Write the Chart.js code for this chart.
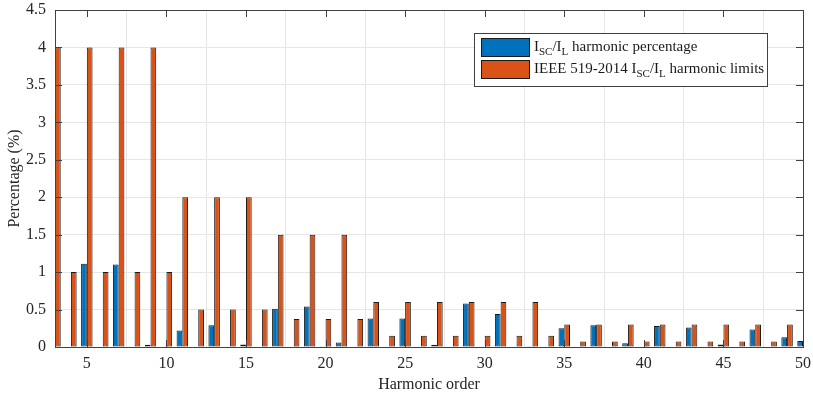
<!DOCTYPE html>
<html>
<head>
<meta charset="utf-8">
<script src="https://cdn.jsdelivr.net/npm/chart.js@4.4.0/dist/chart.umd.min.js"></script>
<style>
  html, body { margin: 0; padding: 0; background: #fff; }
  #wrap { width: 813px; height: 398px; }
</style>
</head>
<body>
<div id="wrap"><canvas id="harmonicChart"></canvas></div>
<script>
// Harmonic orders 3..50
const harmonics = [3, 4, 5, 6, 7, 8, 9, 10, 11, 12, 13, 14, 15, 16, 17, 18, 19, 20, 21, 22, 23, 24, 25, 26,
                   27, 28, 29, 30, 31, 32, 33, 34, 35, 36, 37, 38, 39, 40, 41, 42, 43, 44, 45, 46, 47, 48, 49, 50];

// Measured harmonic current (% of fundamental)
const measuredPct = [0, 0, 1.11, 0, 1.10, 0, 0.03, 0, 0.22, 0, 0.29, 0, 0.035, 0, 0.51, 0, 0.54, 0.01, 0.06, 0,
                     0.38, 0, 0.38, 0, 0.03, 0, 0.58, 0, 0.44, 0, 0.01, 0, 0.25, 0, 0.29, 0, 0.05, 0, 0.28, 0,
                     0.26, 0, 0.035, 0, 0.235, 0, 0.13, 0.08];

// IEEE 519-2014 limits (even harmonics at 25% of the odd limit)
const ieeeLimits = [4, 1, 4, 1, 4, 1, 4, 1, 2, 0.5, 2, 0.5, 2, 0.5, 1.5, 0.375, 1.5, 0.375, 1.5, 0.375,
                    0.6, 0.15, 0.6, 0.15, 0.6, 0.15, 0.6, 0.15, 0.6, 0.15, 0.6, 0.15, 0.3, 0.075, 0.3, 0.075,
                    0.3, 0.075, 0.3, 0.075, 0.3, 0.075, 0.3, 0.075, 0.3, 0.075, 0.3, 0.075];

const xTicks = [5, 10, 15, 20, 25, 30, 35, 40, 45, 50];
const yTicks = [0, 0.5, 1, 1.5, 2, 2.5, 3, 3.5, 4, 4.5];

const BLUE = '#0072BD';
const ORANGE = '#D95319';
const AXIS = '#404040';
const SERIF = '"Liberation Serif", "Times New Roman", serif';

// Axes box and inward tick marks on all four sides
const boxPlugin = {
    id: 'box',
    afterDatasetsDraw(chart) {
        const { ctx, chartArea: a, scales } = chart;
        const len = 7;
        ctx.save();
        ctx.strokeStyle = AXIS;
        ctx.lineWidth = 1;
        ctx.beginPath();
        xTicks.forEach(v => {
            const px = Math.round(scales.x.getPixelForValue(v)) + 0.5;
            ctx.moveTo(px, a.bottom); ctx.lineTo(px, a.bottom - len);
            ctx.moveTo(px, a.top); ctx.lineTo(px, a.top + len);
        });
        yTicks.forEach(v => {
            const py = Math.round(scales.y.getPixelForValue(v)) + 0.5;
            ctx.moveTo(a.left, py); ctx.lineTo(a.left + len, py);
            ctx.moveTo(a.right, py); ctx.lineTo(a.right - len, py);
        });
        ctx.stroke();
        ctx.strokeRect(Math.round(a.left) + 0.5, Math.round(a.top) + 0.5,
                       Math.round(a.right - a.left), Math.round(a.bottom - a.top));
        ctx.restore();
    }
};

// Legend with subscripted labels
const legendPlugin = {
    id: 'subLegend',
    afterDraw(chart) {
        const ctx = chart.ctx;
        const x0 = 474.5, y0 = 33.5, w = 293, h = 53;
        const main = '15px ' + SERIF, sub = '11px ' + SERIF;
        ctx.save();
        ctx.fillStyle = '#fff';
        ctx.fillRect(x0, y0, w, h);
        ctx.strokeStyle = AXIS;
        ctx.lineWidth = 1;
        ctx.strokeRect(x0, y0, w, h);

        const rows = [
            { color: BLUE, parts: [['I', 0], ['SC', 1], ['/I', 0], ['L', 1], [' harmonic percentage', 0]] },
            { color: ORANGE, parts: [['IEEE 519-2014 I', 0], ['SC', 1], ['/I', 0], ['L', 1], [' harmonic limits', 0]] }
        ];
        rows.forEach((row, i) => {
            const ry = 38 + i * 22;
            ctx.fillStyle = row.color;
            ctx.fillRect(481, ry, 48, 18);
            ctx.strokeStyle = '#1a1a1a';
            ctx.strokeRect(481.5, ry + 0.5, 48, 18);
            let tx = 534;
            const base = ry + 13;
            ctx.fillStyle = '#1a1a1a';
            ctx.textBaseline = 'alphabetic';
            ctx.textAlign = 'left';
            row.parts.forEach(([txt, isSub]) => {
                ctx.font = isSub ? sub : main;
                ctx.fillText(txt, tx, isSub ? base + 4 : base);
                tx += ctx.measureText(txt).width;
            });
        });
        ctx.restore();
    }
};

const toPoints = vals => harmonics.map((h, i) => ({ x: h, y: vals[i] }));

new Chart(document.getElementById('harmonicChart'), {
    type: 'bar',
    data: {
        datasets: [
            {
                label: 'ISC/IL harmonic percentage',
                data: toPoints(measuredPct),
                backgroundColor: BLUE,
                borderColor: '#1a1a1a',
                borderWidth: 1,
                borderSkipped: false
            },
            {
                label: 'IEEE 519-2014 ISC/IL harmonic limits',
                data: toPoints(ieeeLimits),
                backgroundColor: ORANGE,
                borderColor: '#1a1a1a',
                borderWidth: 1,
                borderSkipped: false
            }
        ]
    },
    options: {
        responsive: true,
        maintainAspectRatio: false,
        animation: false,
        categoryPercentage: 0.72,
        barPercentage: 1,
        layout: { padding: { top: 10, right: 10, left: 0, bottom: 0 } },
        plugins: {
            legend: { display: false },
            tooltip: { enabled: false }
        },
        scales: {
            x: {
                type: 'linear',
                min: 3,
                max: 50,
                offset: false,
                grid: { color: '#e6e6e6', drawTicks: false },
                border: { display: false },
                ticks: {
                    color: '#262626',
                    font: { family: SERIF, size: 16 },
                    padding: 7,
                    maxRotation: 0,
                    callback: v => String(v)
                },
                afterBuildTicks: s => { s.ticks = xTicks.map(v => ({ value: v })); },
                afterFit: s => {
                    s.height = 51;
                    s.paddingLeft = 0;
                    s.paddingRight = 0;
                },
                title: {
                    display: true,
                    text: 'Harmonic order',
                    color: '#262626',
                    font: { family: SERIF, size: 16 },
                    padding: { top: 0, bottom: 4 }
                }
            },
            y: {
                min: 0,
                max: 4.5,
                grid: { color: '#e6e6e6', drawTicks: false },
                border: { display: false },
                ticks: {
                    color: '#262626',
                    font: { family: SERIF, size: 16 },
                    padding: 9,
                    callback: v => String(v)
                },
                afterBuildTicks: s => { s.ticks = yTicks.map(v => ({ value: v })); },
                afterFit: s => {
                    s.width = 55;
                    s.paddingTop = 0;
                    s.paddingBottom = 0;
                },
                title: {
                    display: true,
                    text: 'Percentage (%)',
                    color: '#262626',
                    font: { family: SERIF, size: 16 },
                    padding: { top: 5, bottom: 0 }
                }
            }
        }
    },
    plugins: [boxPlugin, legendPlugin]
});
</script>
</body>
</html>
